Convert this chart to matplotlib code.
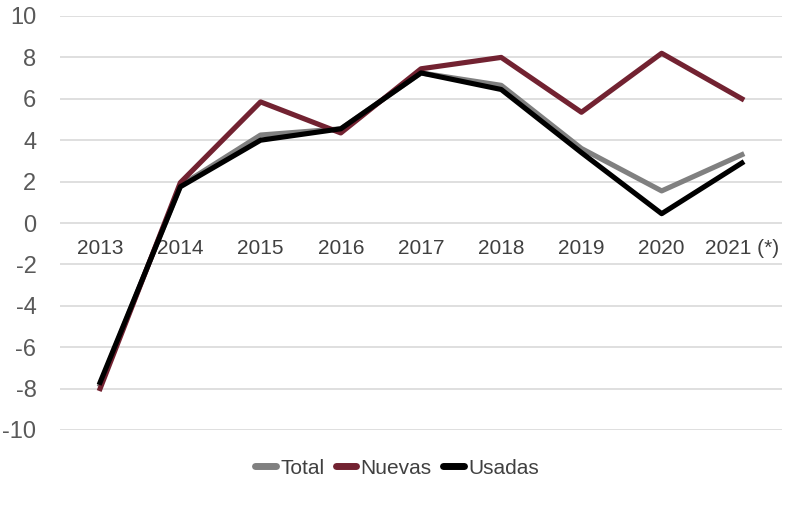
import matplotlib
matplotlib.use("Agg")
import matplotlib.pyplot as plt

years = ["2013", "2014", "2015", "2016", "2017", "2018", "2019", "2020", "2021 (*)"]
total = [-7.8, 1.8, 4.25, 4.55, 7.25, 6.65, 3.6, 1.55, 3.3]
nuevas = [-8.0, 1.95, 5.85, 4.35, 7.45, 8.0, 5.35, 8.2, 6.0]
usadas = [-7.7, 1.75, 4.0, 4.55, 7.25, 6.45, 3.4, 0.45, 2.9]
yticks = [-10, -8, -6, -4, -2, 0, 2, 4, 6, 8, 10]

plt.rcParams['font.family'] = ['Liberation Sans', 'DejaVu Sans']

fig = plt.figure(figsize=(7.85, 5.16), dpi=100)
ax = fig.add_axes([60/785, 1-430/516, (782-60)/785, (430-16)/516])

x = list(range(len(years)))
lw = 3.7
ax.plot(x, total, color='#808080', lw=lw, label='Total', solid_joinstyle='round', zorder=3)
ax.plot(x, nuevas, color='#722231', lw=lw, label='Nuevas', solid_joinstyle='round', zorder=4)
ax.plot(x, usadas, color='#000000', lw=lw, label='Usadas', solid_joinstyle='round', zorder=5)

ax.set_xlim(-0.5, len(years)-0.5)
ax.set_ylim(-10, 10)
ax.set_yticks(yticks)
ax.set_yticklabels([str(v) for v in yticks])
ax.tick_params(axis='y', length=0, pad=17, labelsize=17, labelcolor='#595959')
ax.set_xticks([])
ax.grid(axis='y', color='#d9d9d9', lw=1.2, zorder=0)
for s in ax.spines.values():
    s.set_visible(False)

for i, lab in enumerate(years):
    ax.annotate(lab, xy=(i, 0), xytext=(0, -18), textcoords='offset points',
                ha='center', va='center', fontsize=15, color='#404040')

leg = fig.legend(loc='center', bbox_to_anchor=(397/785, 1-468/516), ncol=3, frameon=False,
                 fontsize=15, handlelength=1.0, handletextpad=0.2, columnspacing=0.55,
                 labelcolor='#404040')
for h in leg.legend_handles:
    h.set_solid_capstyle('round')
    h.set_linewidth(5)

fig.savefig('out.png', dpi=100)
